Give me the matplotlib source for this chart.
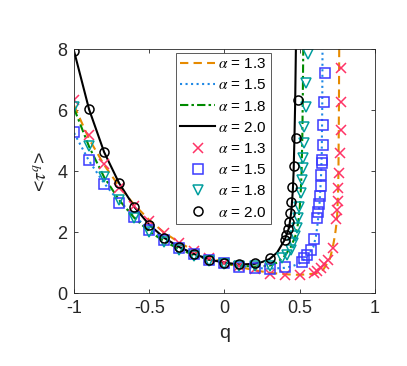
import matplotlib
matplotlib.use('Agg')
import matplotlib.pyplot as plt
import numpy as np

plt.rcParams['font.family'] = ['Liberation Sans', 'DejaVu Sans']
plt.rcParams['mathtext.fontset'] = 'stix'

alphas = ['1.3', '1.5', '1.8', '2.0']

# theory curves
q_line13 = [-1, -0.9, -0.8, -0.7, -0.6, -0.5, -0.4, -0.3, -0.2, -0.1, 0, 0.1, 0.2, 0.3, 0.4, 0.5, 0.6,
            0.65, 0.7, 0.72, 0.735, 0.748, 0.755, 0.758, 0.761, 0.763]
v_line13 = [6.15, 5.05, 4.2, 3.5, 2.9, 2.4, 1.98, 1.66, 1.38, 1.17, 1.0, 0.86, 0.75, 0.67, 0.62, 0.6, 0.64,
            0.72, 1.1, 1.5, 1.9, 2.4, 3.2, 4.0, 6.0, 8.0]
q_line15 = [-1, -0.9, -0.8, -0.7, -0.6, -0.5, -0.4, -0.3, -0.2, -0.1, 0, 0.1, 0.2, 0.3, 0.4, 0.45, 0.5,
            0.55, 0.59, 0.608, 0.62, 0.633, 0.642, 0.647, 0.65, 0.652]
v_line15 = [5.25, 4.33, 3.6, 3.0, 2.52, 2.1, 1.77, 1.5, 1.28, 1.12, 1.0, 0.9, 0.83, 0.8, 0.83, 0.88, 0.98,
            1.2, 1.5, 1.85, 2.3, 3.0, 3.8, 4.6, 6.0, 8.0]
q_line18 = [-1, -0.9, -0.8, -0.7, -0.6, -0.5, -0.4, -0.3, -0.2, -0.1, 0, 0.1, 0.2, 0.3, 0.35, 0.4, 0.44,
            0.47, 0.49, 0.5, 0.508, 0.513, 0.518, 0.521, 0.524]
v_line18 = [6.05, 4.8, 3.8, 3.05, 2.47, 2.02, 1.7, 1.44, 1.24, 1.09, 0.97, 0.9, 0.87, 0.9, 1.0, 1.22, 1.5,
            1.85, 2.3, 2.75, 3.4, 4.0, 5.2, 6.5, 8.0]
q_line20 = [-1, -0.9, -0.8, -0.7, -0.6, -0.5, -0.4, -0.3, -0.2, -0.1, 0, 0.1, 0.2, 0.25, 0.3, 0.35, 0.4,
            0.43, 0.445, 0.455, 0.46, 0.465, 0.47, 0.475]
v_line20 = [7.93, 6.02, 4.62, 3.6, 2.83, 2.24, 1.81, 1.51, 1.28, 1.1, 1.0, 0.94, 0.96, 1.02, 1.12, 1.33, 1.74,
            2.15, 2.7, 3.4, 4.0, 5.0, 6.2, 8.0]

# simulation points
q_sim13 = [-1, -0.9, -0.8, -0.7, -0.6, -0.5, -0.4, -0.3, -0.2, -0.1, 0, 0.1, 0.2, 0.3, 0.4, 0.5, 0.595,
           0.617, 0.639, 0.661, 0.688, 0.719, 0.741, 0.749, 0.752, 0.757, 0.762, 0.767, 0.772, 0.775, 0.778]
v_sim13 = [6.33, 5.18, 4.23, 3.45, 2.87, 2.37, 1.96, 1.65, 1.38, 1.15, 1.0, 0.88, 0.8, 0.63, 0.6, 0.61, 0.67,
           0.73, 0.84, 0.95, 1.08, 1.47, 2.42, 2.72, 3.03, 3.43, 3.95, 4.58, 5.34, 6.27, 7.37]
q_sim15 = [-1, -0.9, -0.8, -0.7, -0.6, -0.5, -0.4, -0.3, -0.2, -0.1, 0, 0.1, 0.2, 0.3, 0.4, 0.513, 0.528,
           0.546, 0.573, 0.595, 0.617, 0.623, 0.63, 0.635, 0.639, 0.644, 0.646, 0.648, 0.653, 0.657, 0.663, 0.668]
v_sim15 = [5.29, 4.36, 3.57, 2.97, 2.5, 2.07, 1.74, 1.48, 1.27, 1.1, 1.0, 0.86, 0.82, 0.78, 0.86, 1.03, 1.14,
           1.25, 1.43, 1.79, 2.45, 2.67, 2.92, 3.18, 3.51, 3.87, 4.25, 4.36, 4.85, 5.5, 6.27, 7.22]
q_sim18 = [-1, -0.9, -0.8, -0.7, -0.6, -0.5, -0.4, -0.3, -0.2, -0.1, 0, 0.1, 0.2, 0.3, 0.38, 0.413, 0.44,
           0.457, 0.468, 0.484, 0.49, 0.497, 0.506, 0.513, 0.519, 0.522, 0.526, 0.532, 0.54, 0.545, 0.556]
v_sim18 = [6.09, 4.83, 3.81, 3.05, 2.45, 1.99, 1.68, 1.42, 1.22, 1.07, 0.96, 0.9, 0.88, 0.9, 1.14, 1.25, 1.43,
           1.63, 1.87, 2.12, 2.45, 2.83, 3.27, 3.7, 4.09, 4.42, 4.91, 5.43, 6.11, 6.9, 7.84]
q_sim20 = [-1, -0.9, -0.8, -0.7, -0.6, -0.5, -0.4, -0.3, -0.2, -0.1, 0, 0.1, 0.2, 0.3, 0.4, 0.41, 0.42,
           0.428, 0.437, 0.445, 0.452, 0.46, 0.475, 0.49]
v_sim20 = [7.93, 6.02, 4.62, 3.6, 2.83, 2.23, 1.81, 1.52, 1.28, 1.1, 1.0, 0.94, 0.99, 1.14, 1.75, 1.92, 2.1,
           2.33, 2.63, 2.98, 3.48, 4.17, 5.08, 6.34]

fig = plt.figure(figsize=(4.07, 3.66), dpi=100)
ax = fig.add_axes([0.182, 0.199, 0.739, 0.667])

lw = 1.5
ax.plot(q_line13, v_line13, '--', color='#E68A00', lw=lw, dashes=(4, 2.5), label=r'$\alpha$ = 1.3')
ax.plot(q_line15, v_line15, ':', color='#1E88E5', lw=lw, label=r'$\alpha$ = 1.5')
ax.plot(q_line18, v_line18, '-.', color='#008A00', lw=lw, dashes=(4, 1.5, 1.2, 1.5), label=r'$\alpha$ = 1.8')
ax.plot(q_line20, v_line20, '-', color='black', lw=lw, label=r'$\alpha$ = 2.0')

ms = 6.5
ax.plot(q_sim13, v_sim13, 'x', color='#FF3366', ms=ms, mew=1.1, ls='none', label=r'$\alpha$ = 1.3')
ax.plot(q_sim15, v_sim15, 's', color='#3A3AFF', mfc='none', ms=ms, mew=1.1, ls='none', label=r'$\alpha$ = 1.5')
ax.plot(q_sim18, v_sim18, 'v', color='#009E9E', mfc='none', ms=ms + 0.5, mew=1.1, ls='none', label=r'$\alpha$ = 1.8')
ax.plot(q_sim20, v_sim20, 'o', color='black', mfc='none', ms=ms, mew=1.1, ls='none', label=r'$\alpha$ = 2.0')

ax.set_xlim(-1, 1)
ax.set_ylim(0, 8)
ax.set_xticks([-1, -0.5, 0, 0.5, 1])
ax.set_xticklabels(['-1', '-0.5', '0', '0.5', '1'])
ax.set_yticks([0, 2, 4, 6, 8])
ax.tick_params(direction='in', top=True, right=True, labelsize=13, length=3, width=0.6,
               colors='0.15', pad=5)
for s in ax.spines.values():
    s.set_linewidth(0.6)
    s.set_color('0.15')

ax.set_xlabel('q', fontsize=14, color='0.15', labelpad=6)
ax.set_ylabel(r'<$\tau^q$>', fontsize=14, color='0.15', labelpad=4)

leg = ax.legend(loc='upper left', bbox_to_anchor=(0.338, 0.985), fontsize=11, handlelength=2.25,
                handletextpad=0.2, labelspacing=0.47, borderpad=0.3, fancybox=False,
                framealpha=1, borderaxespad=0)
leg.get_frame().set_edgecolor('0.25')
leg.get_frame().set_linewidth(0.6)

plt.savefig('out.png', dpi=100)
